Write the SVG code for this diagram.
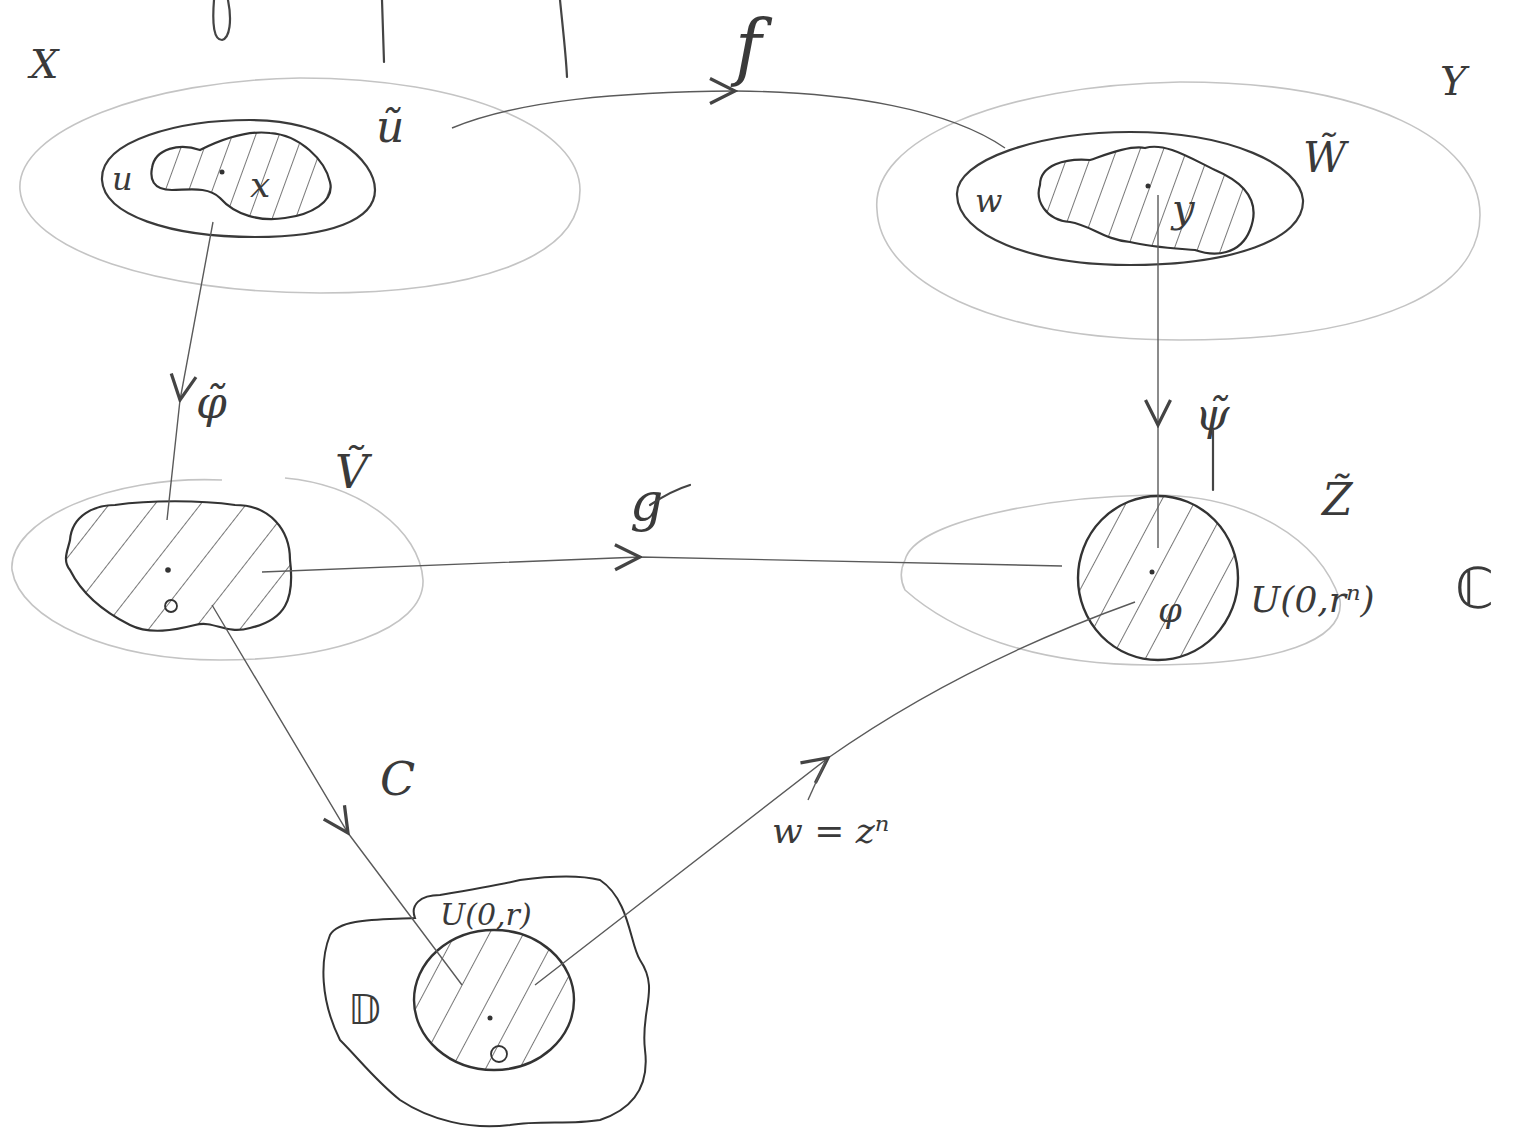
<svg xmlns="http://www.w3.org/2000/svg" width="1518" height="1146" viewBox="0 0 1518 1146">
<style>
.bg{fill:#ffffff}
.outer{fill:none;stroke:#c4c4c4;stroke-width:1.6}
.inner{fill:none;stroke:#3a3a3a;stroke-width:2.2}
.conn{fill:none;stroke:#5a5a5a;stroke-width:1.4}
.frag{fill:none;stroke:#444;stroke-width:2.2;stroke-linecap:round}
.lbl{font-family:"DejaVu Serif","Liberation Serif",serif;font-style:italic;fill:#3a3a3a}
.sym{font-family:"DejaVu Sans","Liberation Sans",sans-serif;fill:#3a3a3a}
.dot{fill:#333}
.o{fill:none;stroke:#333;stroke-width:1.8}
</style>
<defs>
<pattern id="hatchA" width="22" height="22" patternUnits="userSpaceOnUse" patternTransform="rotate(20)">
<line x1="0" y1="0" x2="0" y2="22" stroke="#555" stroke-width="1.6"/>
</pattern>
<pattern id="hatchB" width="36" height="36" patternUnits="userSpaceOnUse" patternTransform="rotate(38)">
<line x1="0" y1="0" x2="0" y2="36" stroke="#555" stroke-width="1.6"/>
</pattern>
<pattern id="hatchC" width="30" height="30" patternUnits="userSpaceOnUse" patternTransform="rotate(28)">
<line x1="0" y1="0" x2="0" y2="30" stroke="#555" stroke-width="1.6"/>
</pattern>
<marker id="chev" viewBox="0 0 12 12" refX="11" refY="6" markerWidth="30" markerHeight="30" markerUnits="userSpaceOnUse" orient="auto">
<path d="M1,1 L11,6 L1,11" fill="none" stroke="#444" stroke-width="1.3"/>
</marker>
</defs>
<rect class="bg" x="0" y="0" width="1518" height="1146"/>

<g id="fragments">
<path class="frag" d="M228,0 C232,20 230,38 222,40 C214,40 212,25 214,0"/>
<path class="frag" d="M382,0 L384,62"/>
<path class="frag" d="M560,0 C563,30 566,55 567,77"/>
</g>

<g id="node-X">
<path class="outer" d="M20,190 C15,130 150,80 300,78 C470,78 580,130 580,190 C580,260 470,293 320,293 C160,293 25,250 20,190 Z"/>
<path class="inner" d="M102,180 C100,140 180,120 250,120 C330,120 375,160 375,190 C375,220 330,237 255,237 C170,237 104,215 102,180 Z"/>
<path d="M152,168 C155,148 180,143 200,150 C220,140 245,130 270,133 C300,135 325,160 330,182 C335,202 310,215 285,218 C260,222 235,215 220,198 C208,186 188,190 172,190 C152,190 150,178 152,168 Z" fill="url(#hatchA)" stroke="#333" stroke-width="2.2"/>
<circle class="dot" cx="222" cy="172" r="2.5"/>
<text class="lbl" x="112" y="190" font-size="32">u</text>
<text class="lbl" x="250" y="197" font-size="36">x</text>
<text class="lbl" x="376" y="142" font-size="44">ũ</text>
<text class="lbl" x="30" y="78" font-size="40">X</text>
</g>

<g id="node-Y">
<path class="outer" d="M877,210 C870,140 1000,85 1180,82 C1370,82 1480,140 1480,215 C1480,290 1380,340 1180,340 C990,340 880,280 877,210 Z"/>
<path class="inner" d="M957,195 C955,160 1040,132 1130,132 C1230,132 1300,165 1303,200 C1305,240 1230,265 1130,265 C1030,265 958,235 957,195 Z"/>
<path d="M1040,185 C1040,165 1065,158 1090,160 C1105,155 1130,145 1145,148 C1165,142 1190,158 1215,170 C1250,185 1260,205 1250,230 C1240,255 1215,257 1195,250 C1170,248 1150,247 1130,242 C1105,240 1090,225 1070,222 C1045,220 1035,200 1040,185 Z" fill="url(#hatchA)" stroke="#333" stroke-width="2.2"/>
<circle class="dot" cx="1148" cy="186" r="2.5"/>
<text class="lbl" x="975" y="212" font-size="32">w</text>
<text class="lbl" x="1172" y="222" font-size="40">y</text>
<text class="lbl" x="1303" y="172" font-size="42">W̃</text>
<text class="lbl" x="1440" y="95" font-size="40">Y</text>
</g>

<g id="node-V">
<path class="outer" d="M285,478 C360,485 420,530 423,580 C425,630 330,660 220,660 C110,660 20,620 12,570 C8,520 110,475 222,480"/>
<path d="M70,540 C72,515 95,505 115,505 C150,500 200,500 235,505 C270,505 290,530 290,560 C295,600 285,620 250,628 C225,635 215,620 195,625 C175,630 150,635 130,625 C100,610 80,590 70,570 C62,560 68,550 70,540 Z" fill="url(#hatchB)" stroke="#333" stroke-width="2.2"/>
<circle class="dot" cx="168" cy="570" r="2.8"/>
<circle class="o" cx="171" cy="606" r="6"/>
<text class="lbl" x="335" y="488" font-size="46">Ṽ</text>
</g>

<g id="node-Z">
<path class="outer" d="M905,560 C915,520 1050,497 1150,495 C1250,494 1320,540 1340,600 C1345,640 1280,665 1150,665 C1030,665 950,630 905,590 C900,580 900,570 905,560 Z"/>
<ellipse cx="1158" cy="578" rx="80" ry="82" fill="url(#hatchC)" stroke="#333" stroke-width="2.4"/>
<circle class="dot" cx="1152" cy="572" r="2.5"/>
<text class="lbl" x="1158" y="622" font-size="34">φ</text>
<text class="lbl" x="1322" y="515" font-size="44">Z̃</text>
<text class="lbl" x="1250" y="612" font-size="36">U(0,rⁿ)</text>
<text class="sym" x="1455" y="608" font-size="56">ℂ</text>
</g>

<g id="node-D">
<path d="M330,935 C340,918 380,920 415,918 C410,905 420,895 440,895 C470,890 500,885 520,880 C550,876 580,875 600,880 C630,900 630,945 640,960 C660,990 640,1010 645,1050 C650,1090 630,1110 600,1120 C570,1125 540,1120 510,1125 C470,1130 430,1120 400,1100 C375,1080 360,1060 340,1040 C320,1000 320,960 330,935 Z" fill="none" stroke="#333" stroke-width="2"/>
<ellipse cx="494" cy="1000" rx="80" ry="70" fill="url(#hatchC)" stroke="#333" stroke-width="2.4"/>
<circle class="dot" cx="490" cy="1018" r="2.5"/>
<circle class="o" cx="499" cy="1054" r="8"/>
<text class="lbl" x="440" y="925" font-size="30">U(0,r)</text>
<text class="sym" x="348" y="1024" font-size="40">𝔻</text>
</g>

<g id="connectors">
<path class="conn" marker-mid="url(#chev)" d="M452,128 C520,100 620,92 735,91 C850,92 950,110 1005,148"/>
<path class="conn" marker-mid="url(#chev)" d="M213,222 L180,400 L167,520"/>
<path class="conn" marker-mid="url(#chev)" d="M1158,195 L1158,425 L1158,548"/>
<path class="conn" marker-mid="url(#chev)" d="M262,572 L640,557 L1062,566"/>
<path class="conn" marker-mid="url(#chev)" d="M212,605 L348,833 L462,985"/>
<path class="conn" marker-mid="url(#chev)" d="M535,985 L828,758 Q960,665 1135,602"/>
<path class="conn" d="M808,800 L826,760"/>
<text class="lbl" x="735" y="72" font-size="72">f</text>
<text class="lbl" x="630" y="520" font-size="52">g</text>
<path class="frag" d="M650,505 C665,495 680,488 690,485"/>
<text class="lbl" x="196" y="418" font-size="44">φ̃</text>
<text class="lbl" x="1195" y="430" font-size="44">ψ̃</text>
<path class="frag" d="M1213,430 L1213,490"/>
<text class="lbl" x="380" y="795" font-size="46">C</text>
<text class="lbl" x="772" y="843" font-size="36">w = zⁿ</text>
</g>
</svg>
